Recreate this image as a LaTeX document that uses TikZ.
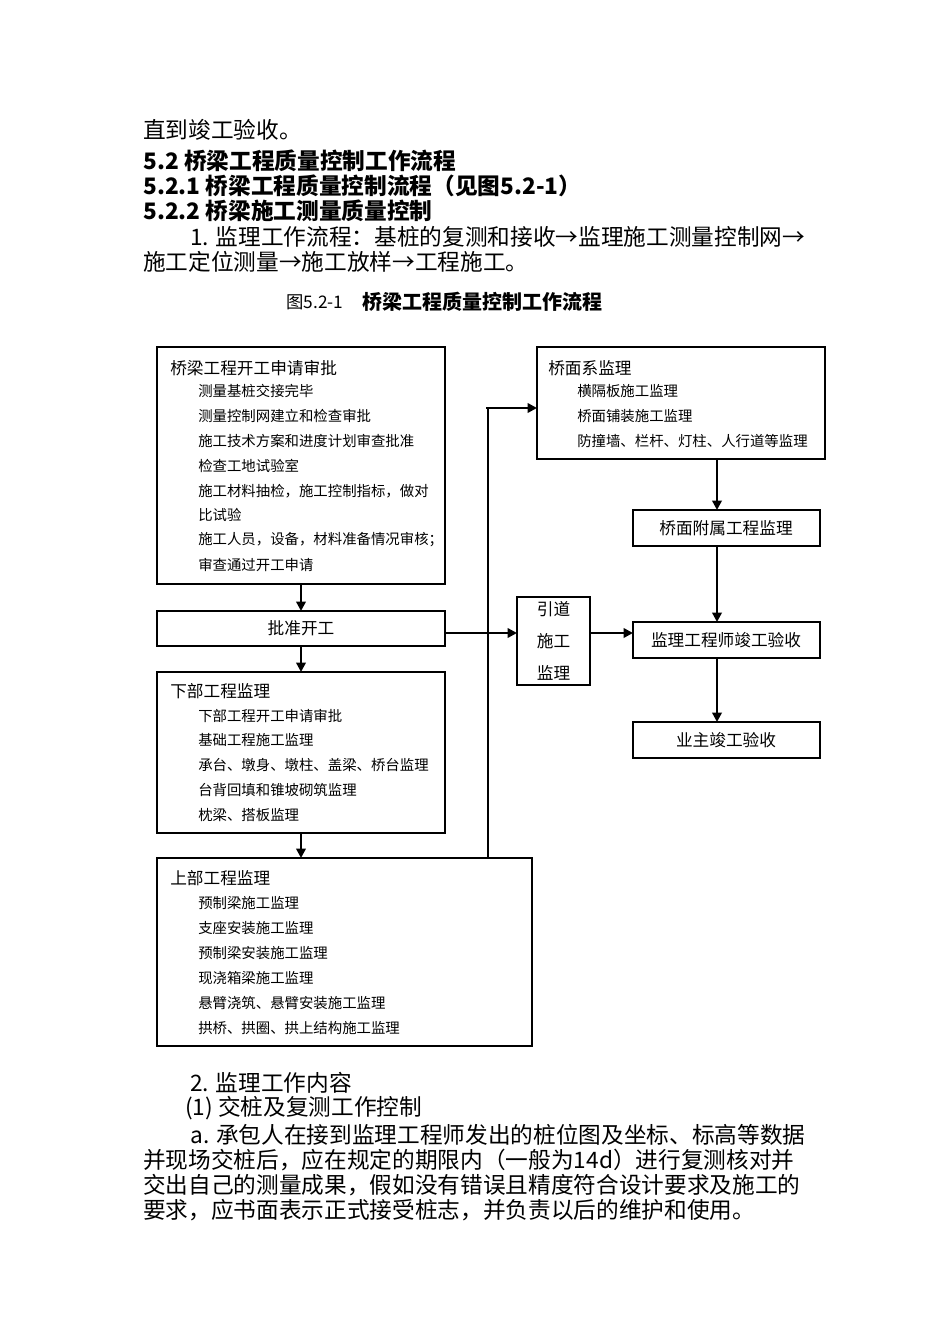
\documentclass[tikz,border=0pt]{standalone}
\usepackage{fontspec}
\setmainfont{Noto Sans CJK SC}
\newfontfamily\cjkb{Noto Sans CJK SC}[BoldFont={Noto Sans CJK SC Bold}]
\usetikzlibrary{arrows.meta}
\begin{document}
\begin{tikzpicture}[x=0.75pt,y=-0.75pt,
 bx/.style={draw,line width=0.8pt},
 ar/.style={line width=1.8pt,-{Triangle[length=7pt,width=7pt]}},
 bt/.style={anchor=west,inner sep=0pt,font=\fontsize{17}{20}\selectfont},
 ti/.style={anchor=west,inner sep=0pt,font=\fontsize{12.5}{14}\selectfont},
 it/.style={anchor=west,inner sep=0pt,font=\fontsize{10.8}{13}\selectfont},
 ce/.style={inner sep=0pt,font=\fontsize{12.5}{14}\selectfont}]
\useasboundingbox (0,0) rectangle (950,1344);
\fill[white] (0,0) rectangle (950,1344);
% top text
\node[bt] (t1) at (143,130) {直到竣工验收。};
\node[bt,font=\fontsize{17}{20}\selectfont\bfseries] (t2) at (143,161) {5.2 桥梁工程质量控制工作流程};
\node[bt,font=\fontsize{17}{20}\selectfont\bfseries] (t3) at (143,186) {5.2.1 桥梁工程质量控制流程（见图5.2-1）};
\node[bt,font=\fontsize{17}{20}\selectfont\bfseries] (t4) at (143,211) {5.2.2 桥梁施工测量质量控制};
\node[bt] (t5) at (190,237) {1. 监理工作流程：基桩的复测和接收→监理施工测量控制网→};
\node[bt] (t6) at (143,262) {施工定位测量→施工放样→工程施工。};
\node[inner sep=0pt,font=\fontsize{13}{15}\selectfont] (cap1) at (315,302) {图5.2-1};
\node[anchor=west,inner sep=0pt,font=\fontsize{15}{17}\selectfont\bfseries] (cap2) at (362,302) {桥梁工程质量控制工作流程};
% boxes
\draw[bx] (157,347) rectangle (445,584);
\node[ti] (a0) at (170,368) {桥梁工程开工申请审批};
\node[it] (a1) at (198,391) {测量基桩交接完毕};
\node[it] (a2) at (198,416) {测量控制网建立和检查审批};
\node[it] (a3) at (198,441) {施工技术方案和进度计划审查批准};
\node[it] (a4) at (198,466) {检查工地试验室};
\node[it] (a5) at (198,491) {施工材料抽检，施工控制指标，做对};
\node[it] (a6) at (198,515) {比试验};
\node[it] (a7) at (198,540) {施工人员，设备，材料准备情况审核；};
\node[it] (a8) at (198,565) {审查通过开工申请};
\coordinate (Ab) at (301,584);
\draw[bx] (157,611) rectangle (445,646);
\node[ce] (B) at (301,628.5) {批准开工};
\coordinate (Bt) at (301,611); \coordinate (Bb) at (301,646); \coordinate (Br) at (445,633);
\draw[bx] (157,672) rectangle (445,833);
\coordinate (Ct) at (301,672); \coordinate (Cb) at (301,833);
\node[ti] (c0) at (170,691) {下部工程监理};
\node[it] (c1) at (198,716) {下部工程开工申请审批};
\node[it] (c2) at (198,740) {基础工程施工监理};
\node[it] (c3) at (198,765) {承台、墩身、墩柱、盖梁、桥台监理};
\node[it] (c4) at (198,790) {台背回填和锥坡砌筑监理};
\node[it] (c5) at (198,815) {枕梁、搭板监理};
\draw[bx] (157,858) rectangle (532,1046);
\coordinate (Dt) at (301,858); \coordinate (Dr) at (488,858);
\node[ti] (d0) at (170,878) {上部工程监理};
\node[it] (d1) at (198,903) {预制梁施工监理};
\node[it] (d2) at (198,928) {支座安装施工监理};
\node[it] (d3) at (198,953) {预制梁安装施工监理};
\node[it] (d4) at (198,978) {现浇箱梁施工监理};
\node[it] (d5) at (198,1003) {悬臂浇筑、悬臂安装施工监理};
\node[it] (d6) at (198,1028) {拱桥、拱圈、拱上结构施工监理};
\draw[bx] (537,347) rectangle (825,459);
\coordinate (El) at (537,408); \coordinate (Eb) at (717,459);
\node[ti] (e0) at (548,368) {桥面系监理};
\node[it] (e1) at (577,391) {横隔板施工监理};
\node[it] (e2) at (577,416) {桥面铺装施工监理};
\node[it] (e3) at (577,441) {防撞墙、栏杆、灯柱、人行道等监理};
\draw[bx] (633,510) rectangle (820,546);
\node[ce] (F) at (726,528) {桥面附属工程监理};
\coordinate (Ft) at (717,510); \coordinate (Fb) at (717,546);
\draw[bx] (517,597) rectangle (590,685);
\node[ce,align=center,font=\fontsize{12.5}{24}\selectfont] (G) at (553.5,641) {引道\\施工\\监理};
\coordinate (Gl) at (517,633); \coordinate (Gr) at (590,633);
\draw[bx] (633,622) rectangle (820,658);
\node[ce] (H) at (726,640) {监理工程师竣工验收};
\coordinate (Hl) at (633,633); \coordinate (Ht) at (717,622); \coordinate (Hb) at (717,658);
\draw[bx] (633,722) rectangle (820,758);
\node[ce] (I) at (726,740) {业主竣工验收};
\coordinate (It) at (717,722);
% connectors
\draw[ar] (Ab) -- (Bt);
\draw[ar] (Bb) -- (Ct);
\draw[ar] (Cb) -- (Dt);
\draw[ar] (Br) -- (Gl);
\draw[ar] (Gr) -- (Hl);
\draw[ar] (Eb) -- (Ft);
\draw[ar] (Fb) -- (Ht);
\draw[ar] (Hb) -- (It);
\draw[line width=0.8pt] (Dr) -- (488,408);
\draw[ar] (486,408) -- (El);
% bottom text
\node[bt] (b1) at (190,1083) {2. 监理工作内容};
\node[bt] (b2) at (185,1108) {(1) 交桩及复测工作控制};
\node[bt] (b3) at (190,1135) {a. 承包人在接到监理工程师发出的桩位图及坐标、标高等数据};
\node[bt] (b4) at (143,1160) {并现场交桩后，应在规定的期限内（一般为14d）进行复测核对并};
\node[bt] (b5) at (143,1185) {交出自己的测量成果，假如没有错误且精度符合设计要求及施工的};
\node[bt] (b6) at (143,1210) {要求，应书面表示正式接受桩志，并负责以后的维护和使用。};
\end{tikzpicture}
\end{document}
